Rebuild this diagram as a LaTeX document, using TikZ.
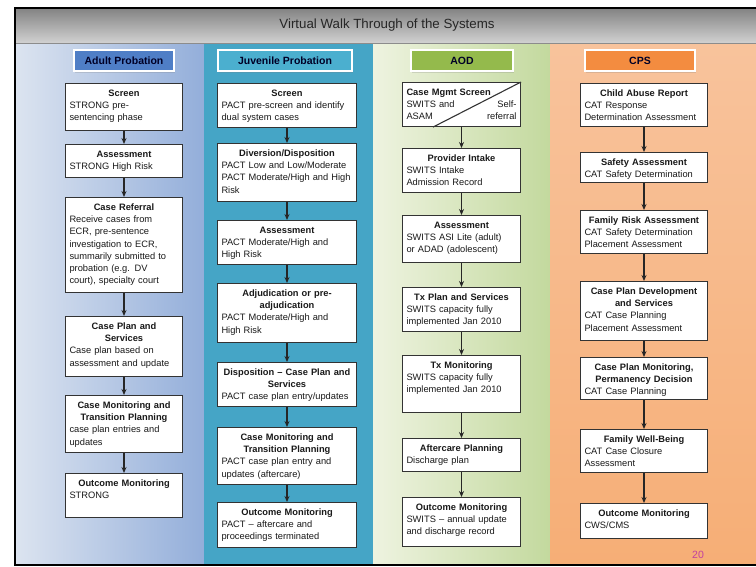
\documentclass[tikz,border=0pt]{standalone}
\usepackage{fontspec}
\setmainfont{Liberation Sans}
\usetikzlibrary{arrows.meta,shadows}

\definecolor{adultbg}{HTML}{DCE4F0}
\definecolor{adultedge}{HTML}{93AEDA}
\definecolor{adulthead}{HTML}{4F7EC6}
\definecolor{juvbg}{HTML}{8ACADD}
\definecolor{juvedge}{HTML}{45A5C6}
\definecolor{juvhead}{HTML}{4BAFCF}
\definecolor{aodbg}{HTML}{EEF3E0}
\definecolor{aodedge}{HTML}{C3D99E}
\definecolor{aodhead}{HTML}{94BA4C}
\definecolor{cpstop}{HTML}{F8C39C}
\definecolor{cpsmid}{HTML}{F49444}
\definecolor{cpsbot}{HTML}{F6AE76}
\definecolor{cpshead}{HTML}{F38C40}
\definecolor{boxline}{HTML}{333333}
\definecolor{pagenum}{HTML}{C23FA0}

% box text: height, bold centred heading, left aligned body
\newcommand{\steptext}[3]{\parbox[t][#1pt][t]{\linewidth}{{\centering\bfseries\strut #2\par}\raggedright #3}}

\tikzset{
  stepbox/.style={draw=boxline, line width=1.1pt, fill=white, anchor=north,
    inner xsep=4pt, inner ysep=4pt, text=black!90,
    font=\fontsize{9.3}{12.3}\selectfont},
  headbox/.style={draw=white, line width=2pt, minimum height=21pt,
    text=black!85!blue, font=\fontsize{10.5}{12}\selectfont\bfseries,
    drop shadow={opacity=0.25, shadow xshift=1pt, shadow yshift=-1.5pt}},
}

\begin{document}
\begin{tikzpicture}[x=1pt, y=-1pt, >={Stealth[length=6pt,width=5pt]}]
            \useasboundingbox (0,0) rectangle (756,566);
            % Backgrounds
            \shade[left color=adultbg, right color=adultedge] (15,43) rectangle (204,565);
            \shade[left color=juvedge, middle color=juvbg, right color=juvedge] (204,43) rectangle (373,565);
            \shade[left color=aodbg, right color=aodedge] (373,43) rectangle (550,565);
            \shade[top color=cpstop, middle color=cpsmid, bottom color=cpsbot] (550,43) rectangle (756,565);
            \shade[top color=black!48, middle color=black!8, bottom color=black!18] (15,9) rectangle (756,43);
            \draw[black!45, line width=1pt] (15,43) -- (756,43);
            \draw[black, line width=2.5pt] (756,8) -- (15,8) -- (15,565) -- (756,565);
            \node[font=\fontsize{13.3}{15}\selectfont, text=black!85] (title) at (387,25) {Virtual Walk Through of the Systems};
            % Column heads
            \node[headbox, fill=adulthead, minimum width=100pt] (Adult-head) at (124,60.5) {Adult Probation};
            \node[headbox, fill=juvhead, minimum width=134pt] (Juvenile-head) at (285,60.5) {Juvenile Probation};
            \node[headbox, fill=aodhead, minimum width=102pt] (AOD-head) at (462,60.5) {AOD};
            \node[headbox, fill=cpshead, minimum width=110pt] (CPS-head) at (640,60.5) {CPS};
            % Adult Probation
            \foreach \i/\y/\h/\head/\body in {
                1/83/39/{Screen}/{STRONG pre-\\sentencing phase},
                2/144/25/{Assessment}/{STRONG High Risk},
                3/197/87/{Case Referral}/{Receive cases from\\ECR, pre-sentence\\investigation to ECR,\\summarily submitted to\\probation (e.g. DV\\court), specialty court},
                4/316/52/{Case Plan and\\Services}/{Case plan based on\\assessment and update},
                5/395/49/{Case Monitoring and\\Transition Planning}/{case plan entries and\\updates},
                6/473/36/{Outcome Monitoring}/{STRONG}} {
                \node[stepbox, text width=109pt] (Adult-\i) at (124,\y) {\steptext{\h}{\head}{\body}};
            }
            % Juvenile Probation
            \foreach \i/\y/\h/\head/\body in {
                1/83/36/{Screen}/{PACT pre-screen and identify\\dual system cases},
                2/143/50/{Diversion/Disposition}/{PACT Low and Low/Moderate\\PACT Moderate/High and High\\Risk},
                3/220/36/{Assessment}/{PACT Moderate/High and\\High Risk},
                4/283/51/{Adjudication or pre-\\adjudication}/{PACT Moderate/High and\\High Risk},
                5/362/36/{Disposition – Case Plan and\\Services}/{PACT case plan entry/updates},
                6/427/49/{Case Monitoring and\\Transition Planning}/{PACT case plan entry and\\updates (aftercare)},
                7/502/37/{Outcome Monitoring}/{PACT – aftercare and\\proceedings terminated}} {
                \node[stepbox, text width=131pt] (Juvenile-\i) at (287,\y) {\steptext{\h}{\head}{\body}};
            }
            % AOD
            \node[stepbox, text width=110pt] (AOD-1) at (461.5,82)
                {\parbox[t][36pt][t]{\linewidth}{\bfseries\strut Case Mgmt Screen\par\mdseries SWITS and\hfill Self-\\ASAM\hfill referral}};
            \draw[boxline, line width=1.1pt] (AOD-1.north east) -- ([xshift=31pt]AOD-1.south west);
            \foreach \i/\y/\h/\head/\body in {
                2/148/36/{Provider Intake}/{SWITS Intake\\Admission Record},
                3/215/39/{Assessment}/{SWITS ASI Lite (adult)\\or ADAD (adolescent)},
                4/287/36/{Tx Plan and Services}/{SWITS capacity fully\\implemented Jan 2010},
                5/355/49/{Tx Monitoring}/{SWITS capacity fully\\implemented Jan 2010},
                6/438/25/{Aftercare Planning}/{Discharge plan},
                7/497/41/{Outcome Monitoring}/{SWITS – annual update\\and discharge record}} {
                \node[stepbox, text width=110pt] (AOD-\i) at (461.5,\y) {\steptext{\h}{\head}{\body}};
            }
            % CPS
            \foreach \i/\y/\h/\head/\body in {
                1/83/35/{Child Abuse Report}/{CAT Response\\Determination Assessment},
                2/152/22/{Safety Assessment}/{CAT Safety Determination},
                3/210/35/{Family Risk Assessment}/{CAT Safety Determination\\Placement Assessment},
                4/281/51/{Case Plan Development\\and Services}/{CAT Case Planning\\Placement Assessment},
                5/357/34/{Case Plan Monitoring,\\Permanency Decision}/{CAT Case Planning},
                6/429/35/{Family Well-Being}/{CAT Case Closure\\Assessment},
                7/503/27/{Outcome Monitoring}/{CWS/CMS}} {
                \node[stepbox, text width=119pt] (CPS-\i) at (644,\y) {\steptext{\h}{\head}{\body}};
            }
            % Arrows
            \foreach \col/\n in {Adult/6,Juvenile/7,AOD/7,CPS/7} {
                \foreach \i in {2,...,\n} {
                    \pgfmathtruncatemacro{\k}{\i-1}
                    \draw[->, line width=1.5pt, black!85] (\col-\k) -- (\col-\i);
                }
            }
            \node[text=pagenum, font=\fontsize{10.5}{12}\selectfont] (page) at (698,555) {20};
        \end{tikzpicture}
\end{document}
